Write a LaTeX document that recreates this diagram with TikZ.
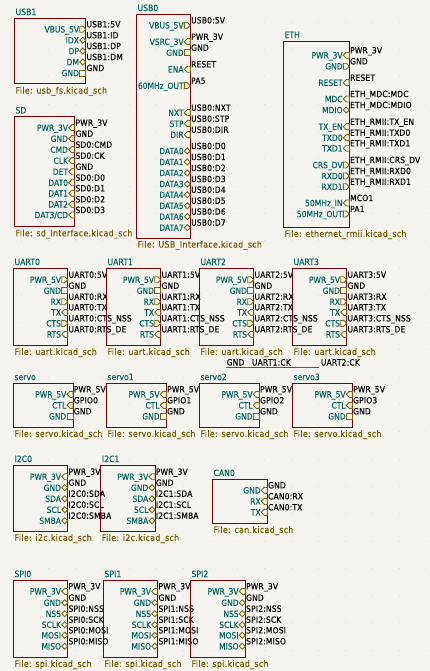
\documentclass[tikz,border=0pt]{standalone}
\usepackage{fontspec}
\setmainfont{DejaVu Sans}[FakeStretch=0.88,FakeBold=0.2]
\definecolor{paper}{HTML}{F5F4EF}
\definecolor{sheetred}{HTML}{840000}
\definecolor{pinteal}{HTML}{006464}
\definecolor{pinbrown}{HTML}{846400}
\definecolor{filebrown}{HTML}{785A00}
\definecolor{wiregreen}{HTML}{088A1A}
\definecolor{griddot}{HTML}{DDDCD6}
\tikzset{
	pinr/.pic={\draw[pinline] (-6,-3) -- (-3,-3) -- (0,0) -- (-3,3) -- (-6,3) -- cycle;},
	pinl/.pic={\draw[pinline] (0,-3) -- (-3,-3) -- (-6,0) -- (-3,3) -- (0,3) -- cycle;},
	pind/.pic={\draw[pinline] (-6,0) -- (-3,-3) -- (0,0) -- (-3,3) -- cycle;},
	pins/.pic={\draw[pinline] (-6,-3) rectangle (0,3);}
}
% one sheet: name, title, top left, bottom right, file
\newcommand{\sheetbox}[5]{
	\coordinate (#1-nw) at (#3);
	\coordinate (#1-se) at (#4);
	\draw[sheetline] (#1-nw) rectangle (#1-se);
	\node[sheettitle,xshift=1pt,yshift=3.2pt] (#1-title) at (#1-nw) {#2};
	\path (#1-nw) |- coordinate (#1-sw) (#1-se);
	\node[sheetfile,xshift=1pt,yshift=-9.6pt] (#1-file) at (#1-sw) {File: #5};
}
% pins of one sheet: name, right edge, kind/y/pin text/label text
\newcommand{\pinrow}[3]{
	\foreach \kind/\ypos/\pintext/\labeltext [count=\n] in {#3} {
		\pic at (#2,\ypos) {pin\kind};
		\node[pintext] (#1-p\n) at (#2-6.5,\ypos+3.2) {\pintext};
		\node[labeltext] (#1-l\n) at (#2+0.6,\ypos-1.9) {\labeltext};
	}
}
\begin{document}
\begin{tikzpicture}[x=1pt,y=-1pt]
\tikzstyle{pinline}=[draw=pinbrown,line width=0.9pt]
\tikzstyle{sheetline}=[draw=sheetred,line width=1pt]
\tikzstyle{sheettitle}=[anchor=base west,inner sep=0pt,text=pinteal,font=\fontsize{8.8}{9}\selectfont]
\tikzstyle{sheetfile}=[anchor=base west,inner sep=0pt,text=filebrown,font=\fontsize{8.9}{9}\selectfont\addfontfeature{LetterSpace=4}]
\tikzstyle{pintext}=[anchor=base east,inner sep=0pt,text=pinteal,font=\fontsize{8.6}{9}\selectfont]
\tikzstyle{labeltext}=[anchor=base west,inner sep=0pt,text=black,font=\fontsize{8.6}{9}\selectfont\addfontfeature{LetterSpace=2}]
\fill[paper] (0,0) rectangle (430,671);
\useasboundingbox (0,0) rectangle (430,671);
\foreach \gx in {0,...,15}
	\foreach \gy in {0,...,24}
		\fill[griddot] (21.3+27*\gx-0.5,22.3+27.3*\gy-0.5) rectangle +(1,1);

\sheetbox{usb1}{USB1}{14.3,18.3}{85.7,84}{usb\_fs.kicad\_sch}
\pinrow{usb1}{85.7}{
	r/29.3/VBUS\_5V/USB1:5V,
	d/40.2/IDX/USB1:ID,
	d/51/DP/USB1:DP,
	d/62/DM/USB1:DM,
	s/73/GND/GND}

\sheetbox{usb0}{USB0}{136.3,14.3}{190.3,238}{USB\_Interface.kicad\_sch}
\pinrow{usb0}{190.3}{
	r/25.3/VBUS\_5V/USB0:5V,
	l/41.7/VSRC\_3V/PWR\_3V,
	s/52.7/GND/GND,
	l/69.3/ENA/RESET,
	r/85.7/60MHz\_OUT/PA5,
	l/112.7/NXT/USB0:NXT,
	l/123.7/STP/USB0:STP,
	l/134.7/DIR/USB0:DIR,
	d/151/DATA0/USB0:D0,
	d/162/DATA1/USB0:D1,
	d/173/DATA2/USB0:D2,
	d/184/DATA3/USB0:D3,
	d/194.7/DATA4/USB0:D4,
	d/205.7/DATA5/USB0:D5,
	d/216.6/DATA6/USB0:D6,
	d/227.6/DATA7/USB0:D7}

\sheetbox{sd}{SD}{14.3,116.7}{74.7,226.7}{sd\_interface.kicad\_sch}
\pinrow{sd}{74.7}{
	l/127.7/PWR\_3V/PWR\_3V,
	l/138.7/GND/GND,
	l/149.7/CMD/SD0:CMD,
	l/160.7/CLK/SD0:CK,
	l/171.7/DET/GND,
	l/182.7/DAT0/SD0:D0,
	l/193.3/DAT1/SD0:D1,
	l/204.3/DAT2/SD0:D2,
	l/215/{DAT3/CD}/SD0:D3}

\sheetbox{eth}{ETH}{283.3,41.3}{349.3,227.3}{ethernet\_rmii.kicad\_sch}
\pinrow{eth}{349.3}{
	l/55.3/PWR\_3V/PWR\_3V,
	r/66.3/GND/GND,
	l/82.7/RESET/RESET,
	l/99/MDC/ETH\_MDC:MDC,
	d/110/MDIO/ETH\_MDC:MDIO,
	l/126.7/TX\_EN/ETH\_RMII:TX\_EN,
	l/137.7/TXD0/ETH\_RMII:TXD0,
	l/148.3/TXD1/ETH\_RMII:TXD1,
	r/165/CRS\_DV/ETH\_RMII:CRS\_DV,
	r/176/RXD0/ETH\_RMII:RXD0,
	r/186.7/RXD1/ETH\_RMII:RXD1,
	l/203/50MHz\_IN/MCO1,
	r/214/50MHz\_OUT/PA1}

\foreach \name/\idx/\xa/\xb in {uart0/0/13.3/67.7, uart1/1/106.3/160.7, uart2/2/199.3/253.7, uart3/3/292.3/346.7} {
	\sheetbox{\name}{UART\idx}{\xa,268.3}{\xb,345.3}{uart.kicad\_sch}
	\pinrow{\name}{\xb}{
		r/279.7/PWR\_5V/UART\idx:5V,
		s/290.7/GND/GND,
		r/301.7/RX/UART\idx:RX,
		l/312.3/TX/UART\idx:TX,
		r/323.3/CTS/UART\idx:CTS\_NSS,
		l/334.3/RTS/UART\idx:RTS\_DE}
}

% clock wire between the uarts
\coordinate (ckwirea) at (226,367.3);
\coordinate (ckwireb) at (319.3,367.3);
\draw[wiregreen,line width=0.8pt] (ckwirea) -- (ckwireb);
\node[labeltext] (ckgnd) at (226.5,365.5) {GND};
\node[labeltext] (ckuart1) at (251.7,365.5) {UART1:CK};
\node[labeltext] (ckuart2) at (320.7,365.5) {UART2:CK};

\foreach \name/\title/\idx/\xa/\xb in {servoa/servo/0/13.3/73, servob/servo1/1/106.3/166.3, servoc/servo2/2/199.3/259.3, servod/servo3/3/292.3/352.3} {
	\sheetbox{\name}{\title}{\xa,383.3}{\xb,427.3}{servo.kicad\_sch}
	\pinrow{\name}{\xb}{
		l/394.3/PWR\_5V/PWR\_5V,
		l/405.3/CTL/GPIO\idx,
		s/416.3/GND/GND}
}

\foreach \name/\idx/\xa/\xb in {ica/0/13.3/67.7, icb/1/100.7/155} {
	\sheetbox{\name}{I2C\idx}{\xa,465.3}{\xb,531.3}{i2c.kicad\_sch}
	\pinrow{\name}{\xb}{
		l/476.7/PWR\_3V/PWR\_3V,
		d/487.7/GND/GND,
		d/498.7/SDA/I2C\idx:SDA,
		d/509.7/SCL/I2C\idx:SCL,
		d/520.7/SMBA/I2C\idx:SMBA}
}

\sheetbox{can0}{CAN0}{212.3,479.3}{267.3,523.3}{can.kicad\_sch}
\pinrow{can0}{267.3}{
	l/490.3/GND/GND,
	l/501.3/RX/CAN0:RX,
	l/512.3/TX/CAN0:TX}

\foreach \name/\idx/\xa/\xb in {spia/0/13.3/67.7, spib/1/103.3/157.7, spic/2/190.3/245.3} {
	\sheetbox{\name}{SPI\idx}{\xa,580.3}{\xb,657.3}{spi.kicad\_sch}
	\pinrow{\name}{\xb}{
		l/591.3/PWR\_3V/PWR\_3V,
		d/602.7/GND/GND,
		d/613.7/NSS/SPI\idx:NSS,
		d/624.7/SCLK/SPI\idx:SCK,
		d/635.3/MOSI/SPI\idx:MOSI,
		d/646.3/MISO/SPI\idx:MISO}
}
\end{tikzpicture}
\end{document}
